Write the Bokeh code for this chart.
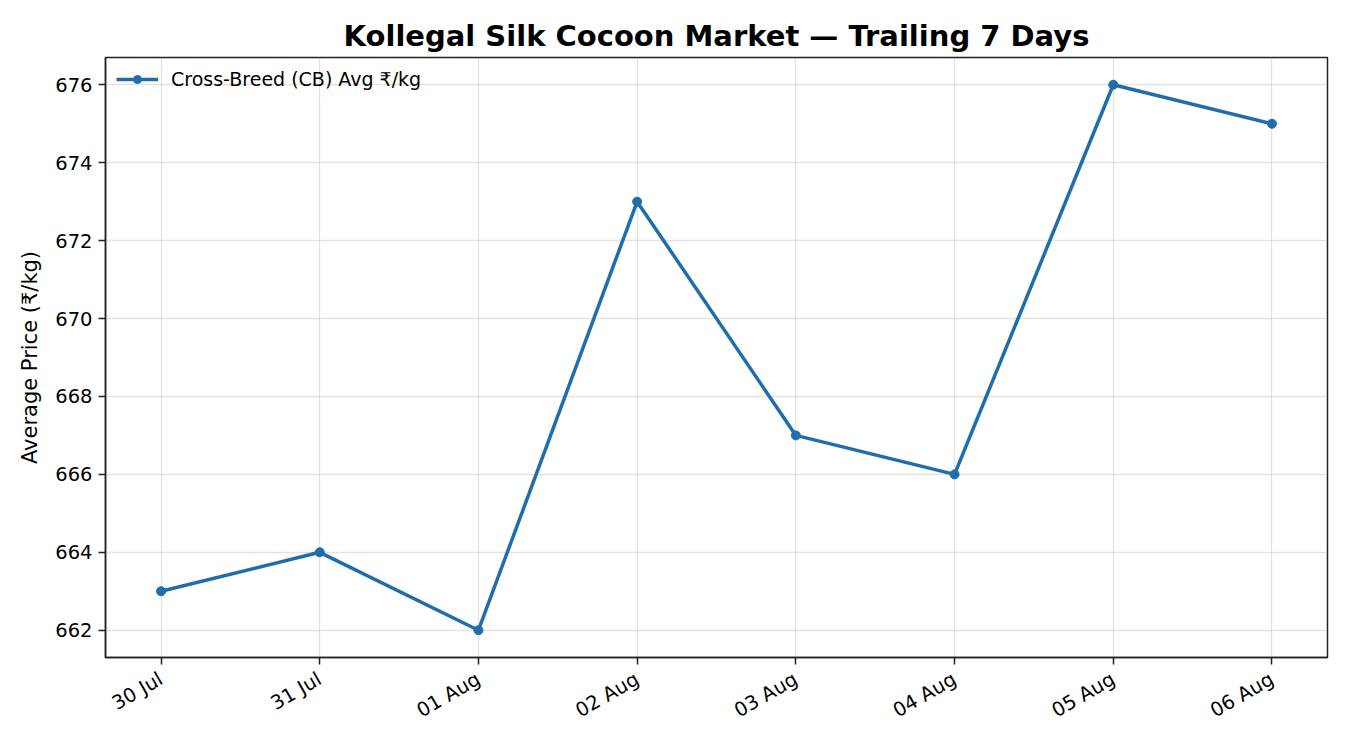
import math
from bokeh.plotting import figure
from bokeh.models import Range1d, FixedTicker, Legend, LegendItem
from bokeh.embed import file_html
from bokeh.resources import INLINE

dates = ["30 Jul", "31 Jul", "01 Aug", "02 Aug", "03 Aug", "04 Aug", "05 Aug", "06 Aug"]
cb_price = [663, 664, 662, 673, 667, 666, 676, 675]
y_ticks = [662, 664, 666, 668, 670, 672, 674, 676]

xs = list(range(len(dates)))
n = len(dates) - 1
ymin, ymax = min(cb_price), max(cb_price)
ypad = (ymax - ymin) * 0.05

FONT = "DejaVu Sans"
BLUE = "#1f6eab"

p = figure(width=1334, height=734, output_backend="svg", toolbar_location=None,
           x_range=Range1d(-0.05 * n, n + 0.05 * n),
           y_range=Range1d(ymin - ypad, ymax + ypad),
           min_border_left=105, min_border_right=7, min_border_top=57, min_border_bottom=77)

p.title.text = "Kollegal Silk Cocoon Market — Trailing 7 Days"
p.title.align = "center"
p.title.text_font = FONT
p.title.text_font_size = "29px"
p.title.text_font_style = "bold"
p.title.text_color = "black"
p.title.offset = 0

line = p.line(xs, cb_price, line_color=BLUE, line_width=3.5)
pts = p.scatter(xs, cb_price, size=9, fill_color=BLUE, line_color=BLUE)

p.xaxis.ticker = FixedTicker(ticks=xs)
p.xaxis.major_label_overrides = {i: d for i, d in enumerate(dates)}
p.xaxis.major_label_orientation = math.radians(30)
p.yaxis.ticker = FixedTicker(ticks=y_ticks)
p.yaxis.axis_label = "Average Price (₹/kg)"

for ax in (p.xaxis[0], p.yaxis[0]):
    ax.major_label_text_font = FONT
    ax.major_label_text_font_size = "19.5px"
    ax.major_label_text_color = "black"
    ax.axis_label_text_font = FONT
    ax.axis_label_text_font_size = "21px"
    ax.axis_label_text_font_style = "normal"
    ax.axis_label_text_color = "black"
    ax.major_tick_in = 0
    ax.major_tick_out = 7
    ax.major_tick_line_width = 1.5
    ax.major_tick_line_color = "#222222"
    ax.minor_tick_line_color = None
    ax.axis_line_color = "#222222"
    ax.axis_line_width = 1.5

p.xaxis.major_label_standoff = 13
p.yaxis.major_label_standoff = 6
p.yaxis.axis_label_standoff = 10

p.outline_line_color = "#222222"
p.outline_line_width = 1.5
p.grid.grid_line_color = "#b0b0b0"
p.grid.grid_line_alpha = 0.35
p.grid.grid_line_width = 1.3

legend = Legend(items=[LegendItem(label="Cross-Breed (CB) Avg ₹/kg", renderers=[line, pts])],
                location="top_left")
legend.label_text_font = FONT
legend.label_text_font_size = "19px"
legend.label_text_color = "black"
legend.border_line_color = None
legend.background_fill_alpha = 0
legend.glyph_width = 42
legend.label_standoff = 13
legend.margin = 11
legend.padding = 7
p.add_layout(legend)

open("out.html", "w").write(file_html(p, INLINE))
